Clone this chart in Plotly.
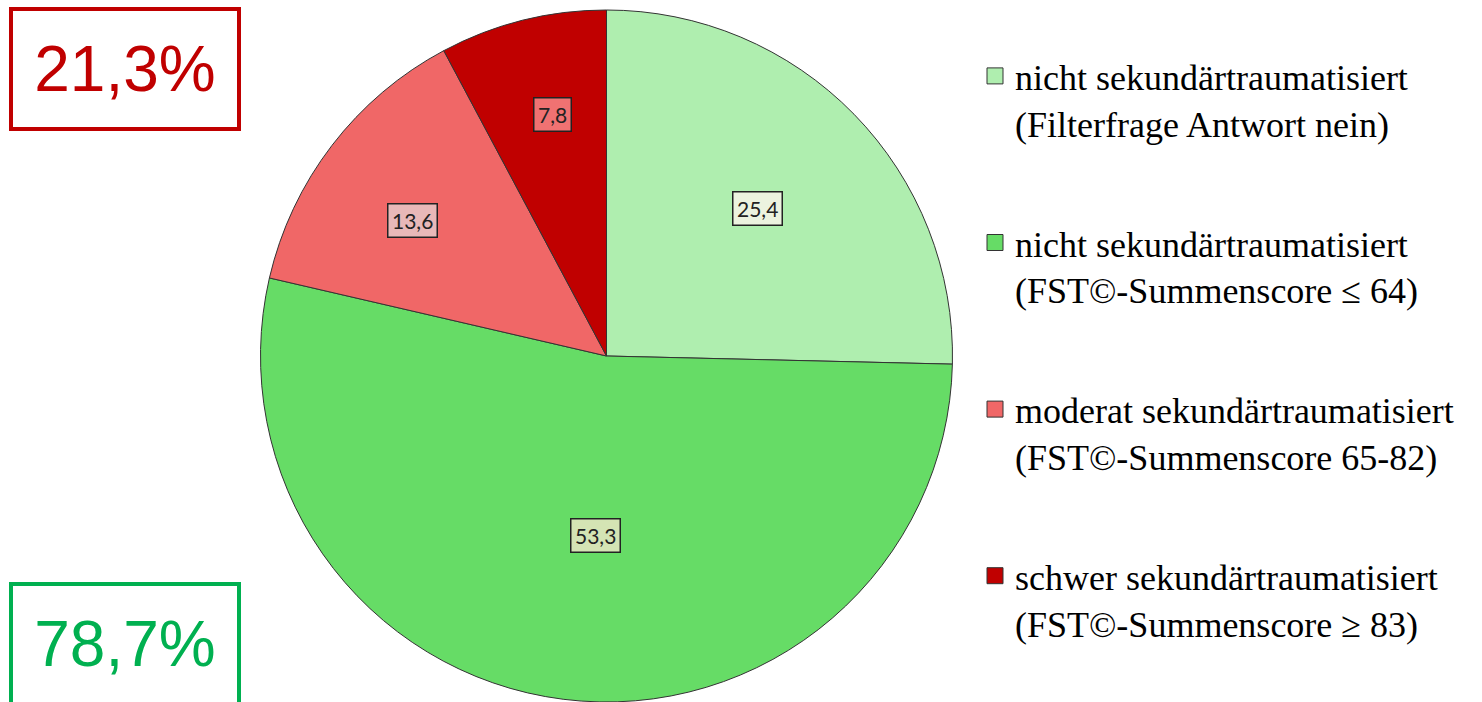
import math
import plotly.graph_objects as go

# ---- data ----
categories = [
    "nicht sekundärtraumatisiert<br>(Filterfrage Antwort nein)",
    "nicht sekundärtraumatisiert<br>(FST©-Summenscore ≤ 64)",
    "moderat sekundärtraumatisiert<br>(FST©-Summenscore 65-82)",
    "schwer sekundärtraumatisiert<br>(FST©-Summenscore ≥ 83)",
]
values = [25.4, 53.3, 13.6, 7.8]
value_labels = ["25,4", "53,3", "13,6", "7,8"]
summary_labels = ["21,3%", "78,7%"]

# ---- style ----
W, H = 1482, 702
slice_colors = ["#AFEEAF", "#66DC66", "#F06767", "#C00000"]
label_bg = ["#ECF3DF", "#D4E4B4", "#E8B8B8", "#F07272"]
label_rfrac = [0.61, 0.52, 0.685, 0.716]
label_dang = [0.0, -3.7, -2.5, 1.5]

cx, top_px, R = 606.5, 10, 346
cy = top_px + R
dom_x = [(cx - R) / W, (cx + R) / W]
dom_y = [1 - (cy + R) / H, 1 - top_px / H]

fig = go.Figure()
fig.add_trace(go.Pie(
    labels=categories,
    values=values,
    sort=False,
    direction="clockwise",
    rotation=0,
    marker=dict(colors=slice_colors, line=dict(color="#333333", width=1)),
    textinfo="none",
    hoverinfo="label+value",
    domain=dict(x=dom_x, y=dom_y),
    showlegend=False,
))

# legend entries (one per category, each its own group for spacing)
for i, (cat, col) in enumerate(zip(categories, slice_colors)):
    fig.add_trace(go.Scatter(
        x=[None], y=[None], mode="markers", name=cat,
        legendgroup=f"g{i}",
        marker=dict(symbol="square", size=16, color=col,
                    line=dict(color="#333333", width=1)),
        hoverinfo="skip",
    ))

annotations = []
total = sum(values)
cum = 0.0
for v, lab, bg, rf, da in zip(values, value_labels, label_bg, label_rfrac, label_dang):
    mid = (cum + v / 2) / total * 2 * math.pi + math.radians(da)
    cum += v
    px = cx + rf * R * math.sin(mid)
    py = cy - rf * R * math.cos(mid)
    annotations.append(dict(
        x=px / W, y=1 - py / H, xref="paper", yref="paper",
        text=lab, showarrow=False,
        font=dict(family="Lato", size=21, color="#222222"),
        bgcolor=bg, bordercolor="#222222", borderwidth=1.5, borderpad=3.5,
        xanchor="center", yanchor="middle",
    ))

for txt, col, ycen in [(summary_labels[0], "#C00000", 69), (summary_labels[1], "#00B050", 644)]:
    annotations.append(dict(
        x=125 / W, y=1 - ycen / H, xref="paper", yref="paper",
        text=txt, showarrow=False,
        font=dict(family="Liberation Sans", size=64, color=col),
        bordercolor=col, borderwidth=4, borderpad=0,
        width=224, height=116, xanchor="center", yanchor="middle",
    ))

fig.update_layout(
    width=W, height=H,
    margin=dict(l=0, r=0, t=0, b=0),
    paper_bgcolor="white", plot_bgcolor="white",
    showlegend=True,
    xaxis=dict(visible=False),
    yaxis=dict(visible=False),
    legend=dict(
        x=975 / W, y=1 - 46 / H, xanchor="left", yanchor="top",
        font=dict(family="Liberation Serif", size=36, color="black"),
        valign="top", bgcolor="rgba(0,0,0,0)",
        tracegroupgap=70, itemsizing="trace",
    ),
    annotations=annotations,
)

fig.write_html("out.html")
